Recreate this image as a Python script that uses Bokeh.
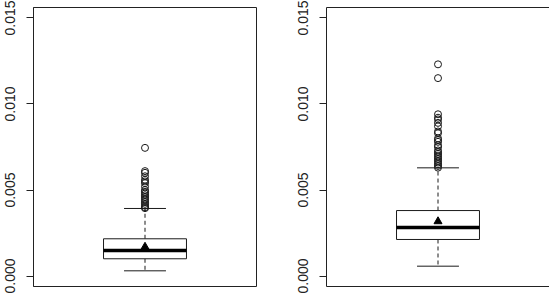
from bokeh.plotting import figure
from bokeh.layouts import row
from bokeh.models import Range1d, FixedTicker, LinearAxis
from bokeh.embed import file_html
from bokeh.resources import INLINE

# ---- data ----
panels = ["left", "right"]
q1 = [0.00101, 0.00213]
median = [0.00149, 0.00283]
q3 = [0.00217, 0.00381]
whisk_lo = [0.00031, 0.00058]
whisk_hi = [0.00393, 0.00629]
means = [0.00170, 0.00318]
outliers_left = [0.00395, 0.0040, 0.0041, 0.0042, 0.0043, 0.0044, 0.0045, 0.0046,
                 0.0047, 0.0048, 0.0049, 0.0050, 0.0052, 0.0054, 0.0055, 0.0056,
                 0.0058, 0.0060, 0.0061, 0.00745]
outliers_right = [0.0063, 0.0064, 0.0065, 0.0066, 0.0067, 0.0068, 0.0069, 0.0070,
                  0.0071, 0.0072, 0.0073, 0.0075, 0.0076, 0.0078, 0.0079, 0.0080,
                  0.0083, 0.0084, 0.0087, 0.0089, 0.0091, 0.0092, 0.0094, 0.0115,
                  0.0123]
y_ticks = [0.000, 0.005, 0.010, 0.015]
y_labels = ["0.000", "0.005", "0.010", "0.015"]
y_lim = (-0.0006, 0.0156)

FONT = "Liberation Sans"
outliers = [outliers_left, outliers_right]


def make_panel(i, width, border_left, border_right, full_outline):
    p = figure(width=width, height=293, output_backend="svg", toolbar_location=None,
               x_range=Range1d(0, 1), y_range=Range1d(*y_lim),
               min_border_left=border_left, min_border_right=border_right,
               min_border_top=7, min_border_bottom=7,
               x_axis_location=None, y_axis_location=None)
    p.grid.visible = False
    p.background_fill_color = "white"
    p.border_fill_color = "white"
    if full_outline:
        p.outline_line_color = "#222222"
        p.outline_line_width = 1
    else:
        p.outline_line_color = None
        for loc in ("above", "below"):
            ax = LinearAxis(ticker=FixedTicker(ticks=[]))
            ax.axis_line_color = "#222222"
            ax.major_tick_line_color = None
            ax.minor_tick_line_color = None
            ax.major_label_text_font_size = "0px"
            p.add_layout(ax, loc)

    yax = LinearAxis(ticker=FixedTicker(ticks=y_ticks))
    yax.major_label_overrides = {t: l for t, l in zip(y_ticks, y_labels)}
    yax.major_label_orientation = "vertical"
    yax.major_label_text_font = FONT
    yax.major_label_text_font_size = "14px"
    yax.major_label_text_color = "#222222"
    yax.major_tick_out = 7
    yax.major_tick_in = 0
    yax.minor_tick_line_color = None
    yax.major_label_standoff = 11
    yax.axis_line_color = "#222222"
    yax.major_tick_line_color = "#222222"
    p.add_layout(yax, "left")

    xc = 0.5
    bw = 0.186
    cw = 0.094
    col = "#1a1a1a"
    # whiskers (dashed)
    p.segment(x0=[xc, xc], y0=[q3[i], q1[i]], x1=[xc, xc], y1=[whisk_hi[i], whisk_lo[i]],
              line_color=col, line_width=1, line_dash="4 3")
    # caps
    p.segment(x0=[xc - cw, xc - cw], y0=[whisk_hi[i], whisk_lo[i]],
              x1=[xc + cw, xc + cw], y1=[whisk_hi[i], whisk_lo[i]],
              line_color=col, line_width=1)
    # box
    p.quad(left=[xc - bw], right=[xc + bw], bottom=[q1[i]], top=[q3[i]],
           fill_color="white", line_color=col, line_width=1)
    # median
    p.segment(x0=[xc - bw], y0=[median[i]], x1=[xc + bw], y1=[median[i]],
              line_color="black", line_width=3.5)
    # outliers
    p.scatter(x=[xc] * len(outliers[i]), y=outliers[i], marker="circle", size=7,
              fill_color=None, line_color=col, line_width=1)
    # mean
    p.scatter(x=[xc], y=[means[i]], marker="triangle", size=8,
              fill_color="black", line_color="black")
    return p


p1 = make_panel(0, 291, 33, 35, True)
p2 = make_panel(1, 258, 35, 0, False)
p = row(p1, p2)

open("out.html", "w").write(file_html(p, INLINE))
